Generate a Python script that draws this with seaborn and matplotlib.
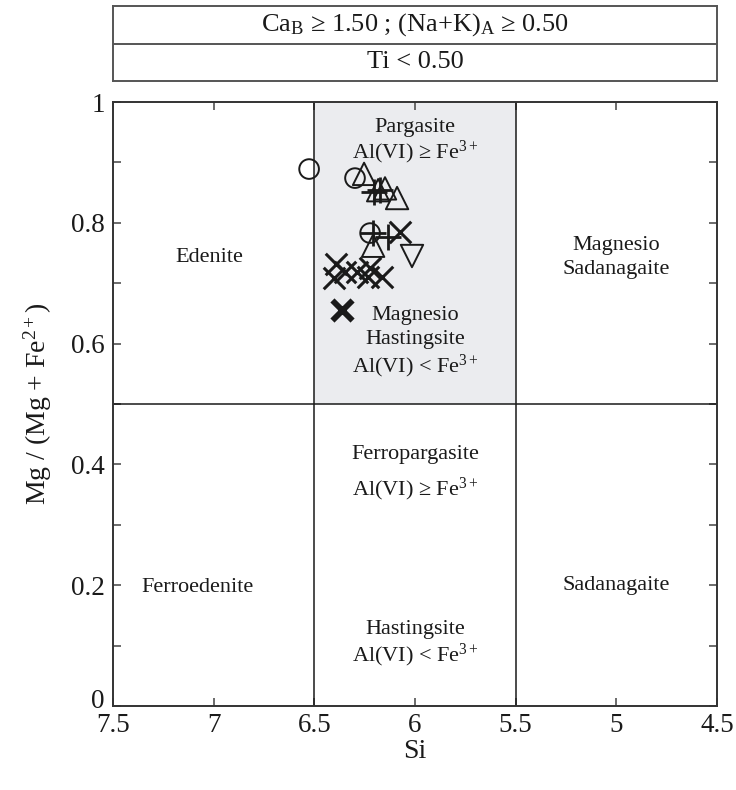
import matplotlib
matplotlib.use("Agg")
import matplotlib.pyplot as plt
import matplotlib.transforms as mtransforms
import seaborn as sns
from matplotlib.ticker import MultipleLocator

# ---- data (Si, Mg/(Mg+Fe2+)) ----
circle_si = [6.526, 6.298, 6.223]
circle_mg = [0.889, 0.874, 0.783]

tri_up_si = [6.253, 6.183, 6.149, 6.089, 6.208]
tri_up_mg = [0.881, 0.854, 0.857, 0.841, 0.762]

tri_down_si = [6.015]
tri_down_mg = [0.745]

plus_si = [6.174, 6.205, 6.208, 6.135]
plus_mg = [0.854, 0.851, 0.783, 0.776]

cross_si = [6.074, 6.392, 6.402, 6.347, 6.288, 6.223, 6.164, 6.233]
cross_mg = [0.785, 0.732, 0.709, 0.719, 0.719, 0.725, 0.710, 0.710]

bold_cross_si = [6.362]
bold_cross_mg = [0.656]

x_ticks = [7.5, 7.0, 6.5, 6.0, 5.5, 5.0, 4.5]
x_tick_labels = ["7.5", "7", "6.5", "6", "5.5", "5", "4.5"]
y_ticks = [0.0, 0.2, 0.4, 0.6, 0.8, 1.0]
y_tick_labels = ["0", "0.2", "0.4", "0.6", "0.8", "1"]

header_lines = [r"Ca$_\mathregular{B}$ ≥ 1.50 ; (Na+K)$_\mathregular{A}$ ≥ 0.50",
                "Ti < 0.50"]

region_labels = [
    (6.0, 0.957, "Pargasite"),
    (6.0, 0.917, r"Al(VI) ≥ Fe$^\mathregular{3+}$"),
    (7.02, 0.742, "Edenite"),
    (5.0, 0.762, "Magnesio"),
    (5.0, 0.722, "Sadanagaite"),
    (6.0, 0.646, "Magnesio"),
    (6.0, 0.606, "Hastingsite"),
    (6.0, 0.563, r"Al(VI) < Fe$^\mathregular{3+}$"),
    (6.0, 0.417, "Ferropargasite"),
    (6.0, 0.359, r"Al(VI) ≥ Fe$^\mathregular{3+}$"),
    (7.08, 0.197, "Ferroedenite"),
    (5.0, 0.199, "Sadanagaite"),
    (6.0, 0.126, "Hastingsite"),
    (6.0, 0.083, r"Al(VI) < Fe$^\mathregular{3+}$"),
]

sns.set_theme(style="ticks")
plt.rcParams["font.family"] = ["Liberation Serif", "DejaVu Serif"]
plt.rcParams["mathtext.fontset"] = "custom"
plt.rcParams["mathtext.rm"] = "Liberation Serif"
plt.rcParams["mathtext.it"] = "Liberation Serif:italic"
plt.rcParams["mathtext.bf"] = "Liberation Serif:bold"

fig = plt.figure(figsize=(7.36, 7.90), dpi=100)
ax = fig.add_axes([113/736, 84/790, 604/736, 604/790])
hax = fig.add_axes([113/736, 1 - 81/790, 604/736, 75/790])

INK = "#1a1a1a"

# shaded field
ax.axvspan(5.5, 6.5, ymin=0.5, ymax=1.0, color="#ebecef", zorder=0, lw=0)
# field boundaries
ax.axhline(0.5, color=INK, lw=1.1, zorder=1)
ax.axvline(6.5, color=INK, lw=1.1, zorder=1)
ax.axvline(5.5, color=INK, lw=1.1, zorder=1)

for x, y, t in region_labels:
    ax.text(x, y, t, ha="center", va="center", fontsize=16, color=INK, zorder=2)

def open_pts(xs, ys, marker, s, lw):
    sns.scatterplot(x=xs, y=ys, marker=marker, s=s, facecolor="none",
                    edgecolor=INK, linewidth=lw, ax=ax, zorder=3, legend=False)

def line_pts(xs, ys, marker, s, lw):
    sns.scatterplot(x=xs, y=ys, marker=marker, s=s, color=INK,
                    linewidth=lw, ax=ax, zorder=3, legend=False)

open_pts(circle_si, circle_mg, "o", 200, 1.4)
open_pts(tri_up_si, tri_up_mg, "^", 260, 1.4)
open_pts(tri_down_si, tri_down_mg, "v", 260, 1.4)
line_pts(plus_si, plus_mg, "+", 330, 2.0)
line_pts(cross_si, cross_mg, "x", 240, 2.2)
line_pts(bold_cross_si, bold_cross_mg, "x", 210, 4.2)

ax.set_xlim(7.5, 4.5)
ax.set_ylim(0, 1)
ax.set_xticks(x_ticks)
ax.set_xticklabels(x_tick_labels)
ax.set_yticks(y_ticks)
ax.set_yticklabels(y_tick_labels)
ax.yaxis.set_minor_locator(MultipleLocator(0.1))
ax.tick_params(axis="both", which="both", direction="in", length=6, width=1.1,
               color="#444", top=True, right=True, labelsize=19.5, labelcolor=INK)
ax.tick_params(axis="x", pad=5)
ax.tick_params(axis="y", pad=6)
# lift the "0" label a little, as in the original
zero_lbl = ax.get_yticklabels()[0]
zero_lbl.set_transform(zero_lbl.get_transform() +
                       mtransforms.ScaledTranslation(0, 8/100, fig.dpi_scale_trans))
for sp in ax.spines.values():
    sp.set_linewidth(1.4)
    sp.set_color("#333")
ax.set_xlabel("Si", fontsize=20, color=INK, labelpad=1)
ax.set_ylabel(r"Mg / (Mg + Fe$^\mathregular{2+}$)", fontsize=20, color=INK, labelpad=12)

# header box
hax.set_xlim(0, 1)
hax.set_ylim(0, 1)
hax.set_xticks([])
hax.set_yticks([])
for sp in hax.spines.values():
    sp.set_linewidth(1.4)
    sp.set_color("#555")
hax.axhline(0.5, color="#555", lw=1.4)
hax.text(0.5, 0.75, header_lines[0], ha="center", va="center", fontsize=19, color=INK)
hax.text(0.5, 0.25, header_lines[1], ha="center", va="center", fontsize=19, color=INK)

fig.savefig("out.png", dpi=100)
